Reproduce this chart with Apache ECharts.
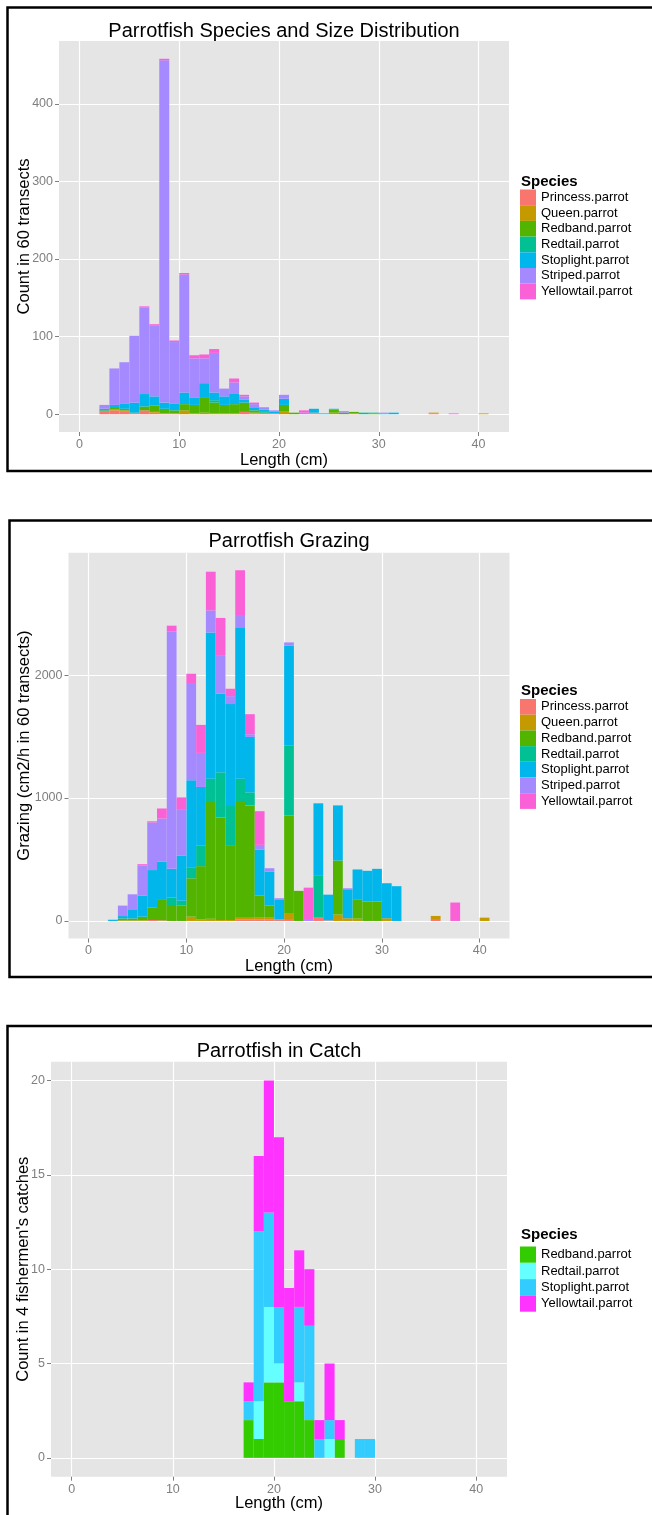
<!DOCTYPE html>
<html><head><meta charset="utf-8">
<script src="https://cdn.jsdelivr.net/npm/echarts@6/dist/echarts.min.js"></script>
<style>html,body{margin:0;padding:0;background:#fff}#c{width:652px;height:1515px}</style>
</head><body><div id="c"></div>
<script>
const FONT = '"Liberation Sans", Arial, Helvetica, sans-serif';

// ---------- categories ----------
const species = ['Princess.parrot','Queen.parrot','Redband.parrot','Redtail.parrot','Stoplight.parrot','Striped.parrot','Yellowtail.parrot'];
const speciesColors = ['#F8766D','#C49A00','#53B400','#00C094','#00B6EB','#A58AFF','#FB61D7'];
const catchSpecies = ['Redband.parrot','Redtail.parrot','Stoplight.parrot','Yellowtail.parrot'];
const catchColors = ['#33CC00','#66FFFF','#33CCFF','#FF33FF'];
const binWidth = 1;
// bin start (cm), bins 2..40
const binStarts = [2,3,4,5,6,7,8,9,10,11,12,13,14,15,16,17,18,19,20,21,22,23,24,25,26,27,28,29,30,31,32,33,34,35,36,37,38,39,40];
// bin start (cm), bins 17..29
const catchBinStarts = [17,18,19,20,21,22,23,24,25,26,27,28,29];

// ---------- tick labels ----------
const xTicks = [0,10,20,30,40];
const countTicks = [0,100,200,300,400];
const grazingTicks = [0,1000,2000];
const catchTicks = [0,5,10,15,20];

// ---------- panel 1: counts in 60 transects ----------
const countPrincess  = [4,5,4,1,5,2,1,1,0,0, 0,0,0,0,3,1,1,1,0,0, 0,1,0,0,0,1,0,0,0,0, 0,0,0,1,0,0,0,0,0];
const countQueen     = [0,1,1,0,0,1,0,0,5,1, 2,1,1,1,0,1,0,0,4,0, 0,1,0,2,0,0,0,0,0,0, 0,0,0,1,0,0,0,0,1];
const countRedband   = [1,2,2,1,5,8,6,4,8,11, 19,14,11,12,12,3,1,0,8,2, 0,0,0,4,2,2,0,1,0,0, 0,0,0,0,0,0,0,0,0];
const countRedtail   = [0,0,0,0,0,0,0,0,0,0, 0,3,0,0,0,0,1,0,0,0, 0,0,0,0,0,0,2,1,0,0, 0,0,0,0,0,0,0,0,0];
const countStoplight = [2,4,7,13,16,12,8,9,15,9, 19,10,11,14,4,3,3,2,8,0, 0,5,1,1,0,0,0,0,1,2, 0,0,0,0,0,0,0,0,0];
const countStriped   = [5,47,53,86,112,91,441,79,152,51, 32,51,10,14,4,5,3,2,5,0, 2,0,0,0,2,0,0,0,1,0, 0,0,0,0,0,0,0,0,0];
const countYellowtail= [0,0,0,0,1,2,2,2,2,4, 5,5,0,5,2,2,0,0,0,0, 3,0,0,0,0,0,0,0,0,0, 0,0,0,0,0,1,0,0,0];

// ---------- panel 2: grazing (cm2/h in 60 transects) ----------
const grazePrincess  = [0,0,0,0,8,5,0,0,0,0, 0,0,0,14,14,14,14,13,16,0, 0,27,5,0,0,0,0,0,0,0, 0,0,0,16,0,0,0,0,0];
const grazeQueen     = [0,5,5,5,0,0,0,0,35,14, 19,8,8,13,13,13,13,0,43,0, 0,0,0,52,22,19,0,0,22,0, 0,0,0,25,0,0,0,0,27];
const grazeRedband   = [0,15,15,30,100,166,130,125,312,432, 948,834,609,948,913,179,98,0,799,245, 0,0,0,440,0,158,158,158,0,0, 0,0,0,0,0,0,0,0,0];
const grazeRedtail   = [0,0,0,0,0,0,60,40,90,166, 190,367,326,182,106,0,0,0,571,0, 0,340,0,0,0,0,0,0,0,0, 0,0,0,0,0,0,0,0,0];
const grazeStoplight = [10,20,75,170,306,312,234,367,707,478, 1190,641,821,1226,451,375,277,158,810,0, 0,590,209,448,236,242,250,266,285,283, 0,0,0,0,0,0,0,0,0];
const grazeStriped   = [0,85,122,247,387,350,1929,378,791,277, 179,313,65,98,22,38,27,14,27,0, 16,0,0,0,8,0,0,0,0,0, 0,0,0,0,0,0,0,0,0];
const grazeYellowtail= [0,0,0,10,10,82,49,95,76,228, 315,302,60,372,163,274,0,0,0,0, 255,0,0,0,0,0,0,0,0,0, 0,0,0,0,0,150,0,0,0];

// ---------- panel 3: count in 4 fishermen's catches ----------
const catchRedband    = [2,1,4,4,3,3,2,0,0,1,0,0,0];
const catchRedtail    = [0,2,4,1,0,1,0,0,1,0,0,0,0];
const catchStoplight  = [1,9,5,3,0,4,5,1,1,0,0,1,1];
const catchYellowtail = [1,4,7,9,6,3,3,1,3,1,0,0,0];

// ---------- build ----------
function renderBin(params, api) {
  const p0 = api.coord([api.value(0), api.value(2)]);
  const p1 = api.coord([api.value(1), api.value(3)]);
  return {
    type: 'rect',
    shape: { x: p0[0], y: p1[1], width: p1[0] - p0[0], height: p0[1] - p1[1] },
    style: { fill: api.visual('color') }
  };
}
function buildSeries(bins, values, names, colors, axisIndex) {
  const base = bins.map(() => 0);
  return names.map((name, k) => {
    const data = [];
    bins.forEach((b, i) => {
      const v = values[k][i];
      if (v > 0) data.push([b, b + binWidth, base[i], base[i] + v]);
      base[i] += v;
    });
    return {
      type: 'custom', name: name, xAxisIndex: axisIndex, yAxisIndex: axisIndex,
      renderItem: renderBin, data: data, encode: { x: [0, 1], y: [2, 3] },
      itemStyle: { color: colors[k] }, silent: true, animation: false
    };
  });
}

const grids = [
  { left: 59, top: 41, width: 450, height: 391 },
  { left: 68.5, top: 552.7, width: 441, height: 385.8 },
  { left: 51, top: 1061.7, width: 456, height: 415 }
];
const yCfg = [
  { min: -22.9, max: 480.9, ticks: countTicks, name: 'Count in 60 transects', gap: 26 },
  { min: -142.65, max: 2995.65, ticks: grazingTicks, name: 'Grazing (cm2/h in 60 transects)', gap: 35.5 },
  { min: -1, max: 21, ticks: catchTicks, name: "Count in 4 fishermen's catches", gap: 19 }
];
const xGaps = [20, 19.5, 18.5];

const xAxes = grids.map((g, i) => ({
  type: 'value', gridIndex: i, min: -2.05, max: 43.05,
  name: 'Length (cm)', nameLocation: 'middle', nameGap: xGaps[i], nameMoveOverlap: false,
  nameTextStyle: { color: '#000', fontSize: 16.5, fontFamily: FONT },
  axisLine: { show: false, onZero: false },
  axisTick: { show: true, length: 4, lineStyle: { color: '#7F7F7F', width: 1 }, customValues: xTicks },
  axisLabel: { color: '#7F7F7F', fontSize: 12.5, fontFamily: FONT, margin: 6, customValues: xTicks,
    formatter: v => String(v) },
  splitLine: { show: true, lineStyle: { color: '#FFFFFF', width: 1.2 } }
}));
const yAxes = yCfg.map((c, i) => ({
  type: 'value', gridIndex: i, min: c.min, max: c.max,
  name: c.name, nameLocation: 'middle', nameGap: c.gap, nameRotate: 90, nameMoveOverlap: false,
  nameTextStyle: { color: '#000', fontSize: 16.5, fontFamily: FONT },
  axisLine: { show: false, onZero: false },
  axisTick: { show: true, length: 4, lineStyle: { color: '#7F7F7F', width: 1 }, customValues: c.ticks },
  axisLabel: { color: '#7F7F7F', fontSize: 12.5, fontFamily: FONT, margin: 6, customValues: c.ticks,
    formatter: v => String(v) },
  splitLine: { show: true, lineStyle: { color: '#FFFFFF', width: 1.2 } }
}));

const series = [].concat(
  buildSeries(binStarts, [countPrincess, countQueen, countRedband, countRedtail, countStoplight, countStriped, countYellowtail], species, speciesColors, 0),
  buildSeries(binStarts, [grazePrincess, grazeQueen, grazeRedband, grazeRedtail, grazeStoplight, grazeStriped, grazeYellowtail], species, speciesColors, 1),
  buildSeries(catchBinStarts, [catchRedband, catchRedtail, catchStoplight, catchYellowtail], catchSpecies, catchColors, 2)
);

const legendBase = {
  orient: 'vertical', itemWidth: 16, itemHeight: 15.7, itemGap: 0, padding: 0, icon: 'rect',
  selectedMode: false, textStyle: { fontSize: 13, color: '#000', fontFamily: FONT }
};
const legends = [
  Object.assign({}, legendBase, { left: 520, top: 189.5, data: species }),
  Object.assign({}, legendBase, { left: 520, top: 699, data: species }),
  Object.assign({}, legendBase, { left: 520, top: 1246.5, itemHeight: 16.3,
    data: catchSpecies.map((n, k) => ({ name: n, itemStyle: { color: catchColors[k] } })) })
];

function frame(x, y, w, h) {
  return { type: 'rect', shape: { x: x, y: y, width: w, height: h }, silent: true,
    style: { fill: 'none', stroke: '#000', lineWidth: 2.5 } };
}
function text(str, x, y, size, weight) {
  return { type: 'text', silent: true, style: { text: str, x: x, y: y,
    font: (weight || 'normal') + ' ' + size + 'px ' + FONT, fill: '#000',
    textAlign: weight ? 'left' : 'center', textVerticalAlign: 'middle' } };
}
const graphic = [
  frame(7.5, 7.5, 660, 463.5),
  frame(9.5, 520.5, 660, 456.5),
  frame(7.5, 1026, 660, 520),
  text('Parrotfish Species and Size Distribution', 284, 31, 20),
  text('Parrotfish Grazing', 289, 541, 20),
  text('Parrotfish in Catch', 279, 1051, 20),
  text('Species', 521, 182, 15, 'bold'),
  text('Species', 521, 691, 15, 'bold'),
  text('Species', 521, 1235, 15, 'bold')
];

const chart = echarts.init(document.getElementById('c'), null, { renderer: 'canvas' });
chart.setOption({
  animation: false,
  backgroundColor: '#FFFFFF',
  grid: grids.map(g => Object.assign({ show: true, backgroundColor: '#E5E5E5', borderWidth: 0, containLabel: false }, g)),
  xAxis: xAxes,
  yAxis: yAxes,
  legend: legends,
  series: series,
  graphic: graphic
});
</script>
</body></html>
